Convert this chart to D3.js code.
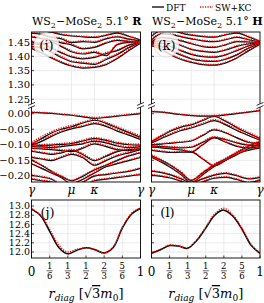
<!DOCTYPE html>
<html>
<head>
<meta charset="utf-8">
<script src="https://cdn.jsdelivr.net/npm/d3@7"></script>
<style>
  body { margin: 0; background: #fff; }
  text { font-family: "DejaVu Serif", serif; fill: #000; }
</style>
</head>
<body>
<div id="chart"></div>
<script>

// k-path sample points (gamma - mu - kappa - gamma), path length units
var kPath = [0, 0.25, 0.5, 0.75, 1, 1.29, 1.577, 1.87, 2.15, 2.44, 2.732]
var kTicks = [0, 1, 1.577, 2.732]
var kLabels = ["γ", "μ", "κ", "γ"]

var topTicks = [1.45, 1.40, 1.35, 1.30, 1.25]
var lowTicks = [0.00, -0.05, -0.10, -0.15, -0.20]
var botTicks = [13.0, 12.8, 12.6, 12.4, 12.2, 12.0]

// bands of panel (i), upper window
var iTopDFT = [
  [1.428, 1.412, 1.394, 1.378, 1.366, 1.359, 1.361, 1.371, 1.392, 1.420, 1.446],
  [1.434, 1.430, 1.414, 1.396, 1.381, 1.376, 1.372, 1.389, 1.406, 1.430, 1.448],
  [1.441, 1.446, 1.428, 1.412, 1.398, 1.391, 1.396, 1.410, 1.420, 1.439, 1.449],
  [1.452, 1.440, 1.449, 1.434, 1.416, 1.408, 1.414, 1.402, 1.441, 1.449, 1.450],
  [1.468, 1.462, 1.456, 1.447, 1.440, 1.426, 1.431, 1.446, 1.456, 1.452, 1.451],
  [1.480, 1.477, 1.466, 1.461, 1.448, 1.451, 1.449, 1.461, 1.468, 1.460, 1.454],
  [1.492, 1.490, 1.484, 1.476, 1.471, 1.468, 1.466, 1.473, 1.481, 1.470, 1.457]
]
var iTopKC = [
  [1.431, 1.414, 1.397, 1.381, 1.369, 1.362, 1.364, 1.374, 1.395, 1.423, 1.447],
  [1.436, 1.433, 1.417, 1.399, 1.384, 1.379, 1.375, 1.392, 1.409, 1.432, 1.449],
  [1.443, 1.448, 1.431, 1.415, 1.401, 1.394, 1.399, 1.413, 1.423, 1.441, 1.450],
  [1.454, 1.443, 1.451, 1.437, 1.419, 1.411, 1.417, 1.405, 1.443, 1.450, 1.451],
  [1.470, 1.464, 1.459, 1.450, 1.443, 1.429, 1.434, 1.448, 1.458, 1.453, 1.452],
  [1.482, 1.479, 1.468, 1.464, 1.451, 1.454, 1.452, 1.463, 1.470, 1.461, 1.455],
  [1.494, 1.492, 1.486, 1.478, 1.473, 1.470, 1.468, 1.475, 1.483, 1.471, 1.458]
]

// bands of panel (k), upper window
var kTopDFT = [
  [1.437, 1.424, 1.404, 1.389, 1.379, 1.371, 1.369, 1.377, 1.394, 1.419, 1.442],
  [1.441, 1.434, 1.419, 1.404, 1.391, 1.384, 1.382, 1.390, 1.405, 1.428, 1.444],
  [1.444, 1.445, 1.434, 1.419, 1.407, 1.399, 1.397, 1.405, 1.420, 1.436, 1.446],
  [1.447, 1.455, 1.450, 1.437, 1.424, 1.417, 1.414, 1.422, 1.435, 1.443, 1.447],
  [1.451, 1.465, 1.462, 1.454, 1.444, 1.434, 1.431, 1.440, 1.451, 1.450, 1.448],
  [1.458, 1.478, 1.476, 1.468, 1.461, 1.454, 1.451, 1.458, 1.466, 1.458, 1.450],
  [1.470, 1.490, 1.490, 1.481, 1.474, 1.469, 1.467, 1.475, 1.481, 1.468, 1.452]
]
var kTopKC = [
  [1.439, 1.426, 1.406, 1.391, 1.381, 1.373, 1.371, 1.379, 1.396, 1.421, 1.443],
  [1.443, 1.436, 1.421, 1.406, 1.393, 1.386, 1.384, 1.392, 1.407, 1.430, 1.445],
  [1.446, 1.447, 1.436, 1.421, 1.409, 1.401, 1.399, 1.407, 1.422, 1.438, 1.447],
  [1.449, 1.457, 1.452, 1.439, 1.426, 1.419, 1.416, 1.424, 1.437, 1.445, 1.448],
  [1.453, 1.467, 1.464, 1.456, 1.446, 1.436, 1.433, 1.442, 1.453, 1.452, 1.449],
  [1.460, 1.480, 1.478, 1.470, 1.463, 1.456, 1.453, 1.460, 1.468, 1.460, 1.451],
  [1.472, 1.492, 1.492, 1.483, 1.476, 1.471, 1.469, 1.477, 1.483, 1.470, 1.453]
]

// bands of panel (i), lower window
var iLowDFT = [
  [0.004, 0.003, 0.001, -0.002, -0.005, -0.010, -0.015, -0.012, -0.008, -0.004, 0.000],
  [-0.098, -0.080, -0.062, -0.050, -0.042, -0.030, -0.021, -0.031, -0.046, -0.061, -0.076],
  [-0.101, -0.089, -0.073, -0.059, -0.049, -0.041, -0.032, -0.041, -0.056, -0.069, -0.083],
  [-0.100, -0.102, -0.101, -0.099, -0.096, -0.088, -0.080, -0.086, -0.095, -0.100, -0.101],
  [-0.106, -0.107, -0.109, -0.106, -0.102, -0.097, -0.088, -0.094, -0.104, -0.109, -0.106],
  [-0.112, -0.113, -0.116, -0.119, -0.122, -0.111, -0.097, -0.106, -0.116, -0.119, -0.112],
  [-0.121, -0.126, -0.131, -0.126, -0.118, -0.132, -0.151, -0.137, -0.122, -0.116, -0.113],
  [-0.141, -0.146, -0.151, -0.141, -0.131, -0.142, -0.166, -0.151, -0.136, -0.126, -0.116],
  [-0.150, -0.166, -0.186, -0.202, -0.216, -0.201, -0.181, -0.166, -0.151, -0.136, -0.126],
  [-0.162, -0.176, -0.191, -0.206, -0.226, -0.211, -0.191, -0.171, -0.161, -0.151, -0.141],
  [-0.199, -0.204, -0.211, -0.231, -0.241, -0.221, -0.201, -0.196, -0.191, -0.186, -0.176],
  [-0.211, -0.216, -0.221, -0.236, -0.251, -0.236, -0.216, -0.211, -0.206, -0.201, -0.196]
]
var iLowKC = [
  [0.005, 0.004, 0.002, -0.001, -0.004, -0.008, -0.012, -0.010, -0.006, -0.002, 0.002],
  [-0.092, -0.074, -0.058, -0.046, -0.038, -0.027, -0.018, -0.028, -0.042, -0.057, -0.071],
  [-0.096, -0.084, -0.069, -0.056, -0.046, -0.038, -0.029, -0.038, -0.052, -0.065, -0.079],
  [-0.098, -0.099, -0.098, -0.096, -0.093, -0.085, -0.077, -0.083, -0.092, -0.097, -0.098],
  [-0.104, -0.105, -0.106, -0.103, -0.099, -0.094, -0.085, -0.091, -0.101, -0.106, -0.104],
  [-0.110, -0.111, -0.113, -0.116, -0.119, -0.108, -0.094, -0.103, -0.113, -0.116, -0.110],
  [-0.119, -0.124, -0.128, -0.123, -0.115, -0.129, -0.148, -0.134, -0.119, -0.113, -0.110],
  [-0.139, -0.144, -0.148, -0.138, -0.128, -0.139, -0.163, -0.148, -0.133, -0.123, -0.113],
  [-0.148, -0.164, -0.184, -0.200, -0.214, -0.199, -0.179, -0.164, -0.149, -0.134, -0.124],
  [-0.160, -0.174, -0.189, -0.204, -0.224, -0.209, -0.189, -0.169, -0.159, -0.149, -0.139],
  [-0.197, -0.202, -0.209, -0.229, -0.239, -0.219, -0.199, -0.194, -0.189, -0.184, -0.174],
  [-0.209, -0.214, -0.219, -0.234, -0.249, -0.234, -0.214, -0.209, -0.204, -0.199, -0.194]
]

// bands of panel (k), lower window
var kLowDFT = [
  [0.007, 0.005, 0.001, -0.003, -0.006, -0.008, -0.008, -0.004, 0.000, 0.005, 0.010],
  [-0.090, -0.072, -0.055, -0.043, -0.036, -0.022, -0.009, -0.025, -0.045, -0.063, -0.080],
  [-0.094, -0.080, -0.066, -0.054, -0.046, -0.034, -0.022, -0.036, -0.054, -0.070, -0.085],
  [-0.100, -0.098, -0.095, -0.092, -0.088, -0.070, -0.052, -0.062, -0.078, -0.092, -0.097],
  [-0.104, -0.106, -0.108, -0.110, -0.108, -0.092, -0.076, -0.084, -0.094, -0.101, -0.102],
  [-0.108, -0.110, -0.113, -0.117, -0.123, -0.100, -0.078, -0.092, -0.105, -0.110, -0.106],
  [-0.118, -0.122, -0.125, -0.124, -0.124, -0.146, -0.168, -0.150, -0.130, -0.118, -0.110],
  [-0.135, -0.150, -0.168, -0.190, -0.215, -0.190, -0.165, -0.145, -0.125, -0.105, -0.090],
  [-0.140, -0.156, -0.175, -0.197, -0.222, -0.197, -0.170, -0.150, -0.132, -0.112, -0.096],
  [-0.185, -0.190, -0.198, -0.210, -0.222, -0.210, -0.198, -0.192, -0.200, -0.210, -0.205],
  [-0.198, -0.202, -0.208, -0.218, -0.232, -0.220, -0.208, -0.205, -0.212, -0.222, -0.214]
]
var kLowKC = [
  [0.008, 0.006, 0.002, -0.002, -0.005, -0.006, -0.006, -0.002, 0.002, 0.006, 0.011],
  [-0.087, -0.069, -0.052, -0.040, -0.033, -0.019, -0.006, -0.022, -0.042, -0.060, -0.077],
  [-0.091, -0.077, -0.063, -0.051, -0.043, -0.031, -0.019, -0.033, -0.051, -0.067, -0.082],
  [-0.098, -0.096, -0.093, -0.090, -0.086, -0.068, -0.050, -0.060, -0.076, -0.090, -0.095],
  [-0.102, -0.104, -0.106, -0.108, -0.106, -0.090, -0.074, -0.082, -0.092, -0.099, -0.100],
  [-0.106, -0.108, -0.111, -0.115, -0.121, -0.098, -0.076, -0.090, -0.103, -0.108, -0.104],
  [-0.116, -0.120, -0.123, -0.122, -0.122, -0.144, -0.166, -0.148, -0.128, -0.116, -0.108],
  [-0.133, -0.148, -0.166, -0.188, -0.213, -0.188, -0.163, -0.143, -0.123, -0.103, -0.088],
  [-0.138, -0.154, -0.173, -0.195, -0.220, -0.195, -0.168, -0.148, -0.130, -0.110, -0.094],
  [-0.183, -0.188, -0.196, -0.208, -0.220, -0.208, -0.196, -0.190, -0.198, -0.208, -0.203],
  [-0.196, -0.200, -0.206, -0.216, -0.230, -0.218, -0.206, -0.203, -0.210, -0.220, -0.212]
]

// bottom panels: r_diag in units of sqrt(3) m0
var rDiag = [0, 0.083, 0.167, 0.25, 0.333, 0.417, 0.5, 0.583, 0.667, 0.75, 0.833, 0.917, 1]
var jDFT = [12.93, 12.79, 12.45, 12.10, 11.96, 12.04, 12.09, 12.05, 11.98, 12.10, 12.52, 12.82, 12.95]
var jKC  = [12.94, 12.80, 12.49, 12.15, 12.00, 12.06, 12.09, 12.05, 11.98, 12.11, 12.53, 12.84, 12.96]
var lDFT = [11.97, 12.05, 12.14, 12.13, 12.08, 12.25, 12.52, 12.80, 12.91, 12.78, 12.50, 12.15, 11.97]
var lKC  = [11.98, 12.06, 12.15, 12.13, 12.09, 12.26, 12.54, 12.83, 12.95, 12.80, 12.52, 12.17, 11.98]
var rTicks = [0, 1/6, 1/3, 1/2, 2/3, 5/6, 1]
var rTickNum = ["0", "1", "1", "1", "2", "5", "1"]
var rTickDen = ["", "6", "3", "2", "3", "6", ""]

var width = 264
var height = 303

var svg = d3.select("#chart")
  .append("svg")
    .attr("width", width)
    .attr("height", height)

var grid = "#e6e6e6"
var red = "#ff0000"

var cols = [
  { x0: 31.5, x1: 140.5, top: iTopDFT, topKC: iTopKC, low: iLowDFT, lowKC: iLowKC,
    bot: jDFT, botKC: jKC, name: "(i)", botName: "(j)", stack: "R", labels: true },
  { x0: 151.5, x1: 260, top: kTopDFT, topKC: kTopKC, low: kLowDFT, lowKC: kLowKC,
    bot: lDFT, botKC: lKC, name: "(k)", botName: "(l)", stack: "H", labels: false }
]

var bandTop = 32, bandBreak = 105.5, bandBottom = 182
var botTop = 200, botBottom = 258

cols.forEach(function(c, ci) {
  var x = d3.scaleLinear().domain([0, 2.732]).range([c.x0, c.x1])
  var yTop = d3.scaleLinear().domain([1.485, 1.235]).range([bandTop, 103.5])
  var yLow = d3.scaleLinear().domain([0.02, -0.22]).range([107.5, bandBottom])
  var xr = d3.scaleLinear().domain([0, 1]).range([c.x0, c.x1])
  var yb = d3.scaleLinear().domain([13.13, 11.87]).range([botTop, botBottom])

  var g = svg.append("g")

  // clip regions
  var clips = [["top", bandTop, 103.5], ["low", 107.5, bandBottom], ["bot", botTop, botBottom]]
  clips.forEach(function(cl) {
    svg.append("clipPath").attr("id", "clip-" + cl[0] + ci)
      .append("rect")
        .attr("x", c.x0).attr("y", cl[1])
        .attr("width", c.x1 - c.x0).attr("height", cl[2] - cl[1])
  })

  // grid lines
  g.selectAll(".vgrid").data(kTicks.slice(1, 3)).enter().append("line")
    .attr("x1", d => x(d)).attr("x2", d => x(d))
    .attr("y1", bandTop).attr("y2", bandBottom)
    .attr("stroke", grid).attr("stroke-width", 0.8)
  g.selectAll(".tgrid").data(topTicks).enter().append("line")
    .attr("x1", c.x0).attr("x2", c.x1)
    .attr("y1", d => yTop(d)).attr("y2", d => yTop(d))
    .attr("stroke", grid).attr("stroke-width", 0.8)
  g.selectAll(".lgrid").data(lowTicks).enter().append("line")
    .attr("x1", c.x0).attr("x2", c.x1)
    .attr("y1", d => yLow(d)).attr("y2", d => yLow(d))
    .attr("stroke", grid).attr("stroke-width", 0.8)
  g.selectAll(".bvgrid").data(rTicks.slice(1, 6)).enter().append("line")
    .attr("x1", d => xr(d)).attr("x2", d => xr(d))
    .attr("y1", botTop).attr("y2", botBottom)
    .attr("stroke", grid).attr("stroke-width", 0.8)
  g.selectAll(".bhgrid").data(botTicks).enter().append("line")
    .attr("x1", c.x0).attr("x2", c.x1)
    .attr("y1", d => yb(d)).attr("y2", d => yb(d))
    .attr("stroke", grid).attr("stroke-width", 0.8)

  // bands
  function drawBands(bands, yScale, clip, color, dotted) {
    var line = d3.line()
      .x((d, i) => x(kPath[i]))
      .y(d => yScale(d))
      .curve(d3.curveMonotoneX)
    g.append("g").attr("clip-path", "url(#" + clip + ")")
      .selectAll("path").data(bands).enter().append("path")
        .attr("d", line)
        .attr("fill", "none")
        .attr("stroke", color)
        .attr("stroke-width", dotted ? 1.5 : 1.2)
        .attr("stroke-dasharray", dotted ? "1.2,1.3" : null)
  }
  drawBands(c.top, yTop, "clip-top" + ci, "#000", false)
  drawBands(c.topKC, yTop, "clip-top" + ci, red, true)
  drawBands(c.low, yLow, "clip-low" + ci, "#000", false)
  drawBands(c.lowKC, yLow, "clip-low" + ci, red, true)

  // bottom curves
  var rline = d3.line()
    .x((d, i) => xr(rDiag[i]))
    .y(d => yb(d))
    .curve(d3.curveCatmullRom)
  var bg = g.append("g").attr("clip-path", "url(#clip-bot" + ci + ")")
  bg.append("path").attr("d", rline(c.bot))
    .attr("fill", "none").attr("stroke", "#000").attr("stroke-width", 1.5)
  bg.append("path").attr("d", rline(c.botKC))
    .attr("fill", "none").attr("stroke", red).attr("stroke-width", 1.5)
    .attr("stroke-dasharray", "1.2,1.3")

  // frames
  g.append("rect").attr("x", c.x0).attr("y", bandTop)
    .attr("width", c.x1 - c.x0).attr("height", bandBottom - bandTop)
    .attr("fill", "none").attr("stroke", "#000").attr("stroke-width", 0.9)
  g.append("rect").attr("x", c.x0).attr("y", botTop)
    .attr("width", c.x1 - c.x0).attr("height", botBottom - botTop)
    .attr("fill", "none").attr("stroke", "#000").attr("stroke-width", 0.9)

  // axis break marks
  ;[c.x0, c.x1].forEach(function(bx) {
    g.append("rect").attr("x", bx - 2).attr("y", bandBreak - 1.6)
      .attr("width", 4).attr("height", 3.2).attr("fill", "#fff")
    ;[-1.6, 1.6].forEach(function(off) {
      g.append("line")
        .attr("x1", bx - 3.5).attr("y1", bandBreak + off + 1.5)
        .attr("x2", bx + 3.5).attr("y2", bandBreak + off - 1.5)
        .attr("stroke", "#000").attr("stroke-width", 0.8)
    })
  })

  // inward ticks on the left axis
  var tk = topTicks.map(yTop).concat(lowTicks.map(yLow)).concat(botTicks.map(yb))
  g.selectAll(".ltick").data(tk).enter().append("line")
    .attr("x1", c.x0).attr("x2", c.x0 + 2.5)
    .attr("y1", d => d).attr("y2", d => d)
    .attr("stroke", "#000").attr("stroke-width", 0.7)
  g.selectAll(".btick").data(rTicks).enter().append("line")
    .attr("x1", d => xr(d)).attr("x2", d => xr(d))
    .attr("y1", botBottom).attr("y2", botBottom - 2.5)
    .attr("stroke", "#000").attr("stroke-width", 0.7)

  // y tick labels (left column only)
  if (c.labels) {
    var fmt = d3.format(".2f")
    g.selectAll(".tl").data(topTicks).enter().append("text")
      .attr("x", 30).attr("y", d => yTop(d) + 3.5)
      .attr("text-anchor", "end").attr("font-size", 10)
      .text(d => fmt(d))
    g.selectAll(".ll").data(lowTicks).enter().append("text")
      .attr("x", 30).attr("y", d => yLow(d) + 3.5)
      .attr("text-anchor", "end").attr("font-size", 10)
      .text(d => fmt(d).replace("-", "−"))
    g.selectAll(".bl").data(botTicks).enter().append("text")
      .attr("x", 30).attr("y", d => yb(d) + 3.3)
      .attr("text-anchor", "end").attr("font-size", 9.5)
      .text(d => d3.format(".1f")(d))
  }

  // high-symmetry labels
  g.selectAll(".kl").data(kTicks).enter().append("text")
    .attr("x", d => x(d)).attr("y", 194)
    .attr("text-anchor", "middle").attr("font-size", 12).attr("font-style", "italic")
    .text((d, i) => kLabels[i])

  // r_diag tick labels (fractions)
  rTicks.forEach(function(t, i) {
    if (rTickDen[i] == "") {
      g.append("text").attr("x", xr(t)).attr("y", 275.5)
        .attr("text-anchor", "middle").attr("font-size", 12).text(rTickNum[i])
    } else {
      g.append("text").attr("x", xr(t)).attr("y", 269)
        .attr("text-anchor", "middle").attr("font-size", 8.5).text(rTickNum[i])
      g.append("line").attr("x1", xr(t) - 3).attr("x2", xr(t) + 3)
        .attr("y1", 270.8).attr("y2", 270.8).attr("stroke", "#000").attr("stroke-width", 0.6)
      g.append("text").attr("x", xr(t)).attr("y", 278.5)
        .attr("text-anchor", "middle").attr("font-size", 8.5).text(rTickDen[i])
    }
  })

  // x label
  var xl = g.append("text").attr("x", (c.x0 + c.x1) / 2).attr("y", 298)
    .attr("text-anchor", "middle").attr("font-size", 13)
  xl.append("tspan").attr("font-style", "italic").text("r")
  xl.append("tspan").attr("font-style", "italic").attr("font-size", 9).attr("dy", 2.5).text("diag")
  xl.append("tspan").attr("dy", -2.5).text(" [√")
  xl.append("tspan").style("text-decoration", "overline").text("3")
  xl.append("tspan").attr("font-style", "italic").text("m")
  xl.append("tspan").attr("font-size", 9).attr("dy", 2.5).text("0")
  xl.append("tspan").attr("dy", -2.5).text("]")

  // title
  var tt = g.append("text").attr("x", c.x0 + 0.5).attr("y", 25).attr("font-size", 11)
  tt.append("tspan").text("WS")
  tt.append("tspan").attr("font-size", 8).attr("dy", 2.5).text("2")
  tt.append("tspan").attr("dy", -2.5).text("−MoSe")
  tt.append("tspan").attr("font-size", 8).attr("dy", 2.5).text("2")
  tt.append("tspan").attr("dy", -2.5).text(" 5.1° ")
  tt.append("tspan").attr("font-weight", "bold").text(c.stack)

  // panel labels
  g.append("ellipse").attr("cx", c.x0 + 15).attr("cy", 45).attr("rx", 12.5).attr("ry", 12)
    .attr("fill", "#fff").attr("fill-opacity", 0.8)
    .attr("stroke", "#ccc").attr("stroke-width", 0.6)
  g.append("text").attr("x", c.x0 + 15).attr("y", 50)
    .attr("text-anchor", "middle").attr("font-size", 13).text(c.name)
  g.append("text").attr("x", c.x0 + 16).attr("y", 217)
    .attr("text-anchor", "middle").attr("font-size", 13).text(c.botName)
})

// legend
var lg = svg.append("g")
lg.append("line").attr("x1", 152).attr("x2", 164).attr("y1", 7).attr("y2", 7)
  .attr("stroke", "#000").attr("stroke-width", 1.3)
lg.append("text").attr("x", 166).attr("y", 10.5).attr("font-size", 9).text("DFT")
lg.append("line").attr("x1", 200).attr("x2", 213).attr("y1", 7).attr("y2", 7)
  .attr("stroke", red).attr("stroke-width", 1.5).attr("stroke-dasharray", "1.2,1.3")
lg.append("text").attr("x", 215).attr("y", 10.5).attr("font-size", 9).text("SW+KC")

</script>
</body>
</html>
